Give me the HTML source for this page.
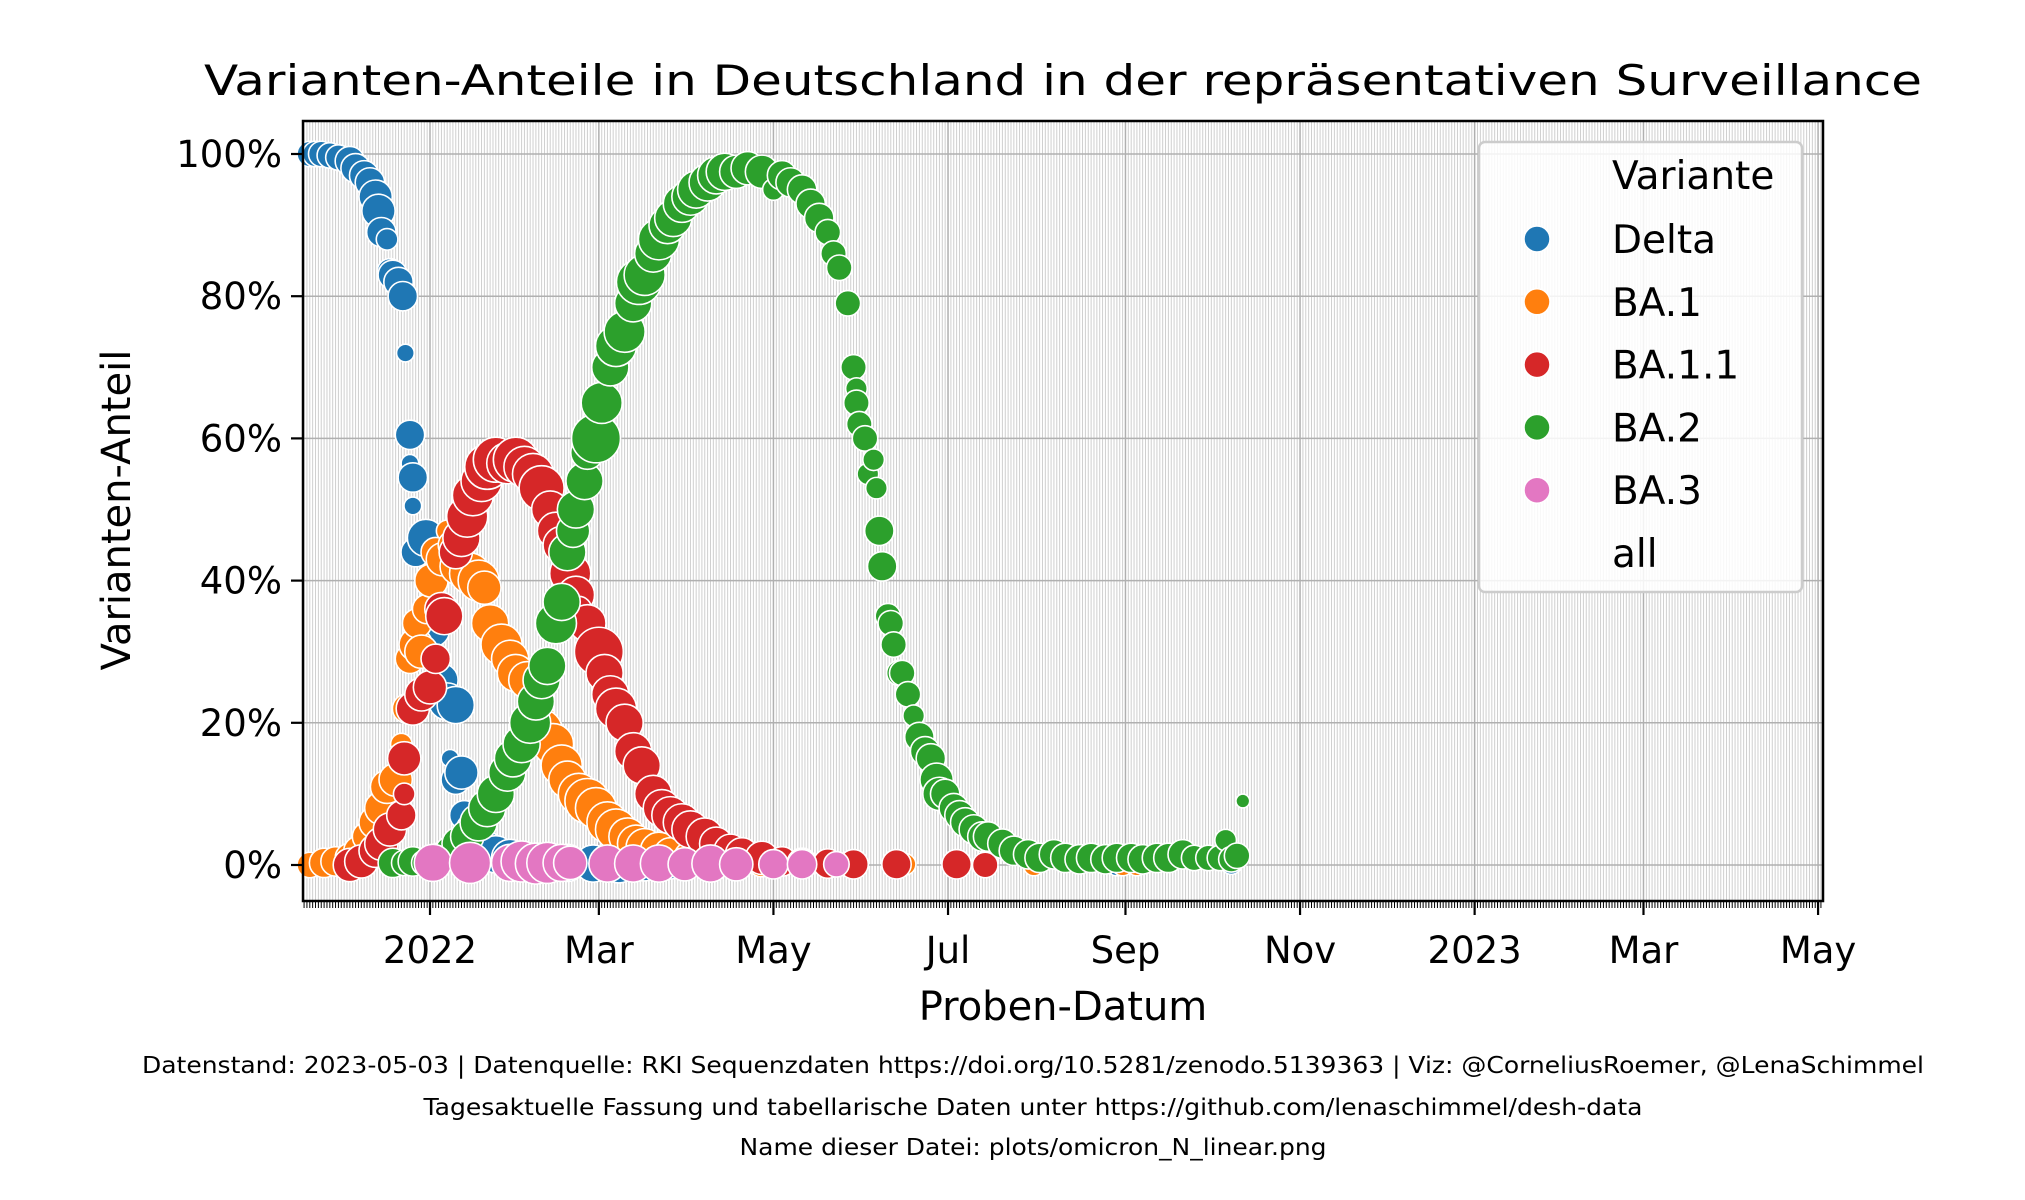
<!DOCTYPE html>
<html><head><meta charset="utf-8">
<style>
html,body{margin:0;padding:0;background:#fff;}
svg{display:block;font-family:"DejaVu Sans","Liberation Sans",sans-serif;}
</style></head>
<body>
<svg id="chart" width="2025" height="1200" viewBox="0 0 2025 1200" xmlns="http://www.w3.org/2000/svg">
<rect width="2025" height="1200" fill="#fff"/>
<g id="grid"></g>
<g id="marks"></g>
<g id="axes"></g>
<text x="1063" y="95" text-anchor="middle" font-size="42" textLength="1718" lengthAdjust="spacingAndGlyphs">Varianten-Anteile in Deutschland in der repräsentativen Surveillance</text>
<text x="1063" y="1020" text-anchor="middle" font-size="40">Proben-Datum</text>
<text transform="translate(130,510) rotate(-90)" text-anchor="middle" font-size="40">Varianten-Anteil</text>
<text x="1033" y="1073" text-anchor="middle" font-size="23" textLength="1782" lengthAdjust="spacingAndGlyphs">Datenstand: 2023-05-03 | Datenquelle: RKI Sequenzdaten https://doi.org/10.5281/zenodo.5139363 | Viz: @CorneliusRoemer, @LenaSchimmel</text>
<text x="1033" y="1115" text-anchor="middle" font-size="23" textLength="1219" lengthAdjust="spacingAndGlyphs">Tagesaktuelle Fassung und tabellarische Daten unter https://github.com/lenaschimmel/desh-data</text>
<text x="1033" y="1155" text-anchor="middle" font-size="23" textLength="587" lengthAdjust="spacingAndGlyphs">Name dieser Datei: plots/omicron_N_linear.png</text>
<g id="legend">
<rect x="1479" y="142" width="323" height="450" rx="6" fill="#fff" fill-opacity="0.85" stroke="#cccccc" stroke-width="2.5"/>
<text x="1612" y="189" font-size="39">Variante</text>
</g>
<script>
// day offsets relative to 2022-01-01; [day, percent, sampleWeight]
const xTickDays = [0, 59, 120, 181, 243, 304, 365, 424, 485];
const xTickLabels = ["2022","Mar","May","Jul","Sep","Nov","2023","Mar","May"];
const yTicks = [0,20,40,60,80,100];
const seriesNames = ["Delta","BA.1","BA.1.1","BA.2","BA.3"];
const seriesColors = ["#1f77b4","#ff7f0e","#d62728","#2ca02c","#e377c2"];
const deltaData = [[-42,100,5],[-40,100,5],[-38,100,5],[-35,99.8,5],[-32,99.5,5],[-28,99,6],[-26,98,6],[-23,97,6],[-21,96,6],[-19,94,7],[-18,92,7],[-17,89,6],[-15,88,4],[-14,83.5,5],[-13,83,6],[-11,82,6],[-9.5,80,6],[-8.6,72,3],[-7,60.5,6],[-7,56.5,3],[-6,54.5,6],[-6,50.5,3],[-5,44,6],[-1.4,46,8],[1,33,7],[2,29,6],[4,26,7],[6,23,8],[9,22.5,8],[7,15,3],[9,12,6],[11,13,7],[12,7,6],[15,5,7],[18,2,8],[20,2,8],[23,1.5,8],[28,1,8],[32,0.5,8],[39,0.3,8],[48,0.3,8],[57,0.2,8],[66,0.1,8],[75,0.1,7],[84,0.1,6],[100,0.1,5],[240,0,4],[280,0.2,4]];
const ba1Data = [[-42,0,5],[-37,0.3,6],[-33,0.5,6],[-28,1,6],[-25,2,6],[-22,4,6],[-19,6,7],[-17,8,7],[-15,11,7],[-12,12,7],[-10,17,4],[-8,22,6],[-7,29,6],[-5,31,7],[-4.5,34,6],[-3,30,7],[-1,36,6],[0.5,40,7],[2,44,6],[4.5,43,7],[6,47,4],[8,45,6],[10,42,8],[14,41,9],[17,40,9],[19,39,7],[21,34,8],[25,31,9],[28,29,8],[30,27,8],[34,26,8],[37,21,8],[39,19,9],[43,17,9],[46,14,9],[48,12,8],[52,10,9],[55,9,10],[58,8,9],[62,6,9],[65,5,9],[69,4,8],[72,3,8],[75,2.5,8],[80,2,8],[84,1.5,7],[91,1,7],[98,0.8,7],[107,0.5,6],[116,0.4,6],[130,0.2,5],[166,0.1,4],[211,0,4],[242,0,4],[247,0,4]];
const ba11Data = [[-28,0,7],[-24,0.5,7],[-19,2,7],[-17,3,7],[-14,5,7],[-10,7,6],[-9,10,4],[-9,15,7],[-6,22,7],[-3,24,7],[0,25,7],[2,29,6],[4,36,7],[5,35,8],[9,44,7],[11,46,8],[13,49,9],[15,52,9],[18,54,9],[20,56,10],[23,57,10],[27,56.5,9],[30,57,10],[33,56,9],[36,55,9],[39,53,10],[42,50,8],[44,47,8],[46,45,8],[49,41,9],[51,38,8],[52,36,5],[55,34,8],[59,30,11],[61,27,8],[63,24,8],[65,22,9],[68,20,8],[71,16,8],[74,14,8],[78,10,8],[81,8,8],[84,7,8],[88,6,8],[91,5,8],[96,4,8],[100,3,7],[105,2,7],[109,1.5,7],[116,1,7],[123,0.5,6],[130,0.3,6],[139,0.2,6],[148,0.1,6],[163,0.1,6],[184,0.1,6],[194,0,5]];
const ba2Data = [[-13,0.3,6],[-9,0.3,5],[-6,0.5,6],[-2,0.3,5],[3,1,6],[7,2,6],[10,3,7],[13,4,7],[17,6,8],[20,8,8],[23,10,8],[27,13,8],[29,15,8],[32,17,8],[35,20,9],[37,23,8],[39,26,8],[41,28,8],[44,34,9],[46,37,8],[48,44,8],[50,47,7],[51,50,8],[54,54,8],[55,58,7],[58,60,11],[60,65,9],[63,70,8],[65,73,9],[68,75,9],[71,79,8],[73,82,10],[75,83,9],[78,86,8],[80,88,9],[83,90,8],[85,91,8],[88,93,8],[91,94,8],[93,95,8],[97,96,8],[100,97,8],[103,97.5,8],[107,97.5,7],[111,98,7],[116,97.5,7],[120,95,4],[123,97,6],[126,96,6],[130,95,6],[133,93,6],[136,91,6],[139,89,5],[141,86,5],[143,84,5],[146,79,5],[148,70,5],[149,67,4],[149,65,5],[150,62,5],[152,60,5],[153,55,4],[155,57,4],[156,53,4],[157,47,6],[158,42,6],[160,35,5],[161,34,5],[162,31,5],[164,27,5],[165,27,5],[167,24,5],[169,21,4],[171,18,6],[173,16,6],[175,15,6],[177,12,7],[178,10,7],[180,10,6],[183,8,6],[185,7,6],[187,6,6],[190,5,6],[193,4,6],[195,4,6],[200,3,6],[204,2,6],[209,1.5,6],[213,1,6],[218,1.5,6],[222,1,6],[227,0.8,6],[231,1,6],[236,0.8,6],[240,1,6],[245,1,6],[249,0.8,6],[254,1,6],[258,1,6],[263,1.5,6],[267,1,5],[272,1,5],[276,1,5],[278,3.5,4],[280,0.8,5],[282,1.3,5],[284,9,2]];
const ba3Data = [[1,0.3,8],[14,0.3,9],[28,0.3,8],[32,0.5,9],[37,0.2,9],[41,0.3,9],[46,0.3,8],[49,0.3,7],[62,0.2,8],[71,0.2,8],[80,0.2,8],[89,0.1,7],[98,0.2,8],[107,0.1,7],[120,0.1,6],[130,0.1,6],[142,0.1,5]];
const allSeries = [deltaData, ba1Data, ba11Data, ba2Data, ba3Data];

const X0 = 430, PXDAY = 2.862;
const Y0 = 865, PXPCT = 7.11;
const L = 303, R = 1823, T = 121, B = 901;
function xScale(d){ return X0 + d*PXDAY; }
function yScale(p){ return Y0 - p*PXPCT; }
function rScale(n){ return 3 + 1.95*n; }
const NS = "http://www.w3.org/2000/svg";
function mk(tag, attrs, parent){ const e=document.createElementNS(NS,tag); for(const k in attrs) e.setAttribute(k, attrs[k]); parent.appendChild(e); return e; }

const grid = document.getElementById('grid');
const axes = document.getElementById('axes');
const marks = document.getElementById('marks');
const legend = document.getElementById('legend');

const dStart = Math.ceil((L - X0)/PXDAY), dEnd = Math.floor((R - X0)/PXDAY);
for(let d=dStart; d<=dEnd; d++){
  const x = xScale(d);
  const g = mk('line',{x1:x,x2:x,y1:T,y2:B,stroke:'#cfcfcf','stroke-width':1},grid);
  
  
  const t = mk('line',{x1:x,x2:x,y1:B,y2:B+7,stroke:'#000','stroke-width':1},axes);
  
  
}
xTickDays.forEach((d,i)=>{
  const x = xScale(d);
  const g = mk('line',{x1:x,x2:x,y1:T,y2:B,stroke:'#b0b0b0','stroke-width':1.5},grid);
  
  
  const t = mk('line',{x1:x,x2:x,y1:B,y2:B+14,stroke:'#000','stroke-width':2.2},axes);
  
  
  const lb = mk('text',{x:x,y:963,'text-anchor':'middle','font-size':37},axes);
  lb.textContent = xTickLabels[i];
  
  
});
yTicks.forEach(v=>{
  const y = yScale(v);
  const g = mk('line',{x1:L,x2:R,y1:y,y2:y,stroke:'#b0b0b0','stroke-width':1.5},grid);
  
  
  const t = mk('line',{x1:L-12,x2:L,y1:y,y2:y,stroke:'#000','stroke-width':2.2},axes);
  
  
  const lb = mk('text',{x:L-21,y:y+13,'text-anchor':'end','font-size':37},axes);
  lb.textContent = v+'%';
  
  
});
const frame = mk('rect',{x:L,y:T,width:R-L,height:B-T,fill:'none',stroke:'#000','stroke-width':2.5},axes);



allSeries.forEach((data,si)=>{
  data.forEach(p=>{
    const c = mk('circle',{cx:xScale(p[0]),cy:yScale(p[1]),r:rScale(p[2]),fill:seriesColors[si],stroke:'#fff','stroke-width':1.6},marks);
    
    
  });
});

seriesNames.forEach((n,i)=>{
  const y = 239 + i*62.8;
  const c = mk('circle',{cx:1537,cy:y,r:13,fill:seriesColors[i],stroke:'#fff','stroke-width':1.5},legend);
  
  
  const t = mk('text',{x:1612,y:y+14,'font-size':39},legend);
  t.textContent = n;
  
  
});
const allT = mk('text',{x:1612,y:567,'font-size':39},legend);
allT.textContent = 'all';


</script>
</svg>
</body></html>
